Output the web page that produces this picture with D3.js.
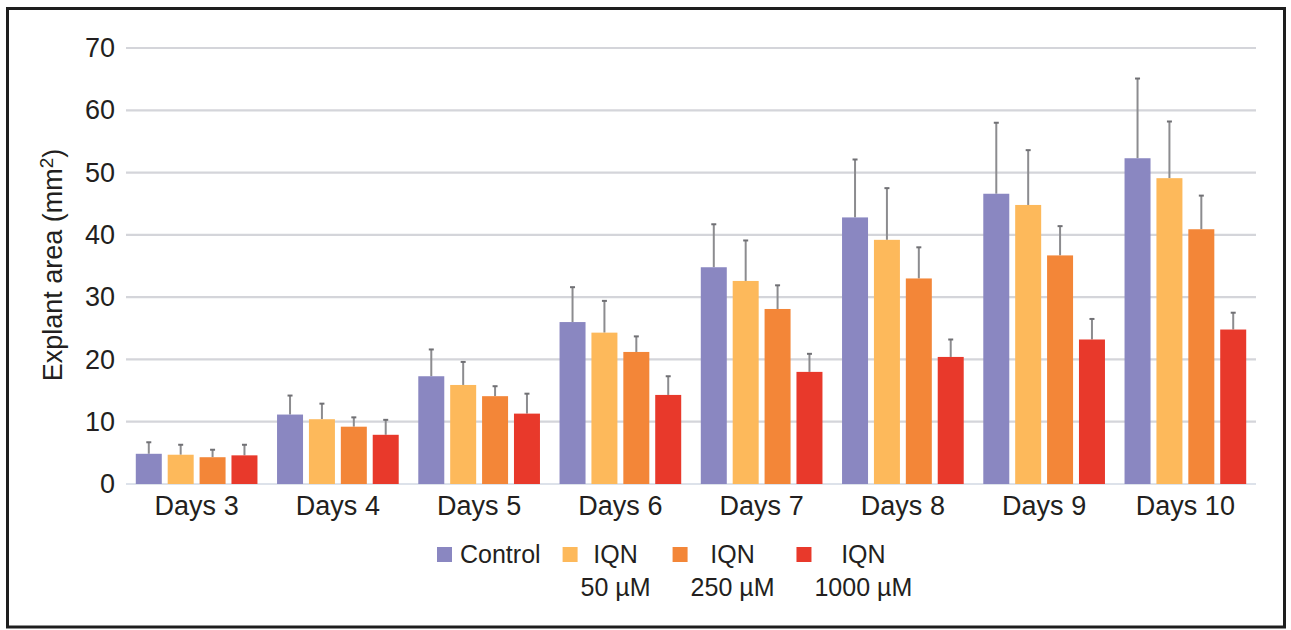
<!DOCTYPE html>
<html lang="en">
<head>
    <meta charset="UTF-8"/>
    <title>Explant area</title>
    <script src="https://d3js.org/d3.v7.min.js"></script>
    <style>
        body { margin: 0; background: #fff; }
        text { font-family: "Liberation Sans", Arial, Helvetica, sans-serif; fill: #231f20; }
    </style>
</head>
<body>
    <script>
        var w = 1291;
        var h = 630;

        // data
        var days = ["Days 3", "Days 4", "Days 5", "Days 6", "Days 7", "Days 8", "Days 9", "Days 10"];
        var seriesNames = ["Control", "IQN 50 µM", "IQN 250 µM", "IQN 1000 µM"];
        var control    = [4.85, 11.15, 17.3, 26.0, 34.8, 42.8, 46.6, 52.3];
        var controlSd  = [1.85, 3.05, 4.3, 5.6, 6.9, 9.3, 11.4, 12.8];
        var iqn50      = [4.7, 10.4, 15.9, 24.3, 32.6, 39.2, 44.8, 49.1];
        var iqn50Sd    = [1.6, 2.5, 3.7, 5.1, 6.5, 8.3, 8.8, 9.1];
        var iqn250     = [4.3, 9.2, 14.1, 21.2, 28.1, 33.0, 36.7, 40.9];
        var iqn250Sd   = [1.2, 1.5, 1.6, 2.5, 3.8, 5.0, 4.7, 5.4];
        var iqn1000    = [4.6, 7.9, 11.3, 14.3, 18.0, 20.4, 23.2, 24.8];
        var iqn1000Sd  = [1.7, 2.4, 3.2, 3.0, 2.9, 2.8, 3.3, 2.7];
        var yTicks = [0, 10, 20, 30, 40, 50, 60, 70];
        var colors = ["#8a87c1", "#fdb95b", "#f38638", "#e8392b"];
        var legendLines = [["Control"], ["IQN", "50 µM"], ["IQN", "250 µM"], ["IQN", "1000 µM"]];

        var means = [control, iqn50, iqn250, iqn1000];
        var sds = [controlSd, iqn50Sd, iqn250Sd, iqn1000Sd];

        var rows = [];
        days.forEach(function(d, i) {
            seriesNames.forEach(function(s, j) {
                rows.push({ day: d, series: s, value: means[j][i], sd: sds[j][i] });
            });
        });

        var svg = d3.select("body").append("svg")
            .attr("width", w)
            .attr("height", h);

        // frame
        svg.append("rect")
            .attr("x", 7.5).attr("y", 8.5)
            .attr("width", 1277).attr("height", 618.5)
            .attr("fill", "#fff")
            .attr("stroke", "#1e1e1e")
            .attr("stroke-width", 3);

        var x0 = d3.scaleBand().domain(days).range([126, 1256]);
        var x1 = d3.scaleBand().domain(seriesNames).range([0, x0.bandwidth()])
            .paddingInner(0.185).paddingOuter(0.307);
        var y = d3.scaleLinear().domain([0, 70]).range([484, 48]);
        var color = d3.scaleOrdinal().domain(seriesNames).range(colors);

        // gridlines
        svg.append("g").selectAll("line")
            .data(yTicks)
            .enter().append("line")
            .attr("x1", 126).attr("x2", 1256)
            .attr("y1", function(d) { return y(d); })
            .attr("y2", function(d) { return y(d); })
            .attr("stroke", function(d) { return d === 0 ? "#dde2ea" : "#d4d5da"; })
            .attr("stroke-width", 2.2);

        // y axis labels
        var yAxis = svg.append("g")
            .attr("transform", "translate(126,0)")
            .call(d3.axisLeft(y).tickValues(yTicks).tickSize(0).tickPadding(11));
        yAxis.select(".domain").remove();
        yAxis.selectAll("text")
            .attr("font-size", "27px")
            .attr("fill", "#231f20")
            .attr("font-family", "Liberation Sans, Arial, sans-serif");

        // x axis labels
        var xAxis = svg.append("g")
            .attr("transform", "translate(0,484)")
            .call(d3.axisBottom(x0).tickSize(0).tickPadding(12));
        xAxis.select(".domain").remove();
        xAxis.selectAll("text")
            .attr("font-size", "27px")
            .attr("fill", "#231f20")
            .attr("font-family", "Liberation Sans, Arial, sans-serif");

        // error bars (upper only)
        var errs = svg.append("g").selectAll("g")
            .data(rows)
            .enter().append("g");
        errs.append("line")
            .attr("x1", function(d) { return x0(d.day) + x1(d.series) + x1.bandwidth() / 2; })
            .attr("x2", function(d) { return x0(d.day) + x1(d.series) + x1.bandwidth() / 2; })
            .attr("y1", function(d) { return y(d.value); })
            .attr("y2", function(d) { return y(d.value + d.sd); })
            .attr("stroke", "#8c8c8f")
            .attr("stroke-width", 2);
        errs.append("line")
            .attr("x1", function(d) { return x0(d.day) + x1(d.series) + x1.bandwidth() / 2 - 2.5; })
            .attr("x2", function(d) { return x0(d.day) + x1(d.series) + x1.bandwidth() / 2 + 2.5; })
            .attr("y1", function(d) { return y(d.value + d.sd); })
            .attr("y2", function(d) { return y(d.value + d.sd); })
            .attr("stroke", "#707074")
            .attr("stroke-width", 2);

        // bars
        svg.append("g").selectAll("rect")
            .data(rows)
            .enter().append("rect")
            .attr("x", function(d) { return x0(d.day) + x1(d.series); })
            .attr("y", function(d) { return y(d.value); })
            .attr("width", x1.bandwidth())
            .attr("height", function(d) { return y(0) - y(d.value); })
            .attr("fill", function(d) { return color(d.series); });

        // y label
        var yLabel = svg.append("text")
            .attr("transform", "translate(62,265) rotate(-90)")
            .attr("text-anchor", "middle")
            .attr("font-size", "27px");
        yLabel.append("tspan").text("Explant area (mm");
        yLabel.append("tspan").attr("font-size", "19px").attr("dy", "-9").text("2");
        yLabel.append("tspan").attr("dy", "9").text(")");

        // legend
        var legend = svg.append("g");
        var lx = 437;
        seriesNames.forEach(function(s, i) {
            var item = legend.append("g");
            item.append("rect")
                .attr("x", lx).attr("y", 547)
                .attr("width", 15).attr("height", 15)
                .attr("fill", color(s));
            var lines = legendLines[i];
            var texts = lines.map(function(t, k) {
                return item.append("text")
                    .attr("y", 563 + k * 32.5)
                    .attr("font-size", "25px")
                    .text(t);
            });
            var bw = d3.max(texts, function(t) { return t.node().getComputedTextLength(); });
            var gap = lines.length === 1 ? 8 : 3;
            var cx = lx + 15 + gap + bw / 2;
            texts.forEach(function(t) {
                t.attr("x", cx).attr("text-anchor", "middle");
            });
            lx = lx + 15 + gap + bw + 22;
        });
    </script>
</body>
</html>
